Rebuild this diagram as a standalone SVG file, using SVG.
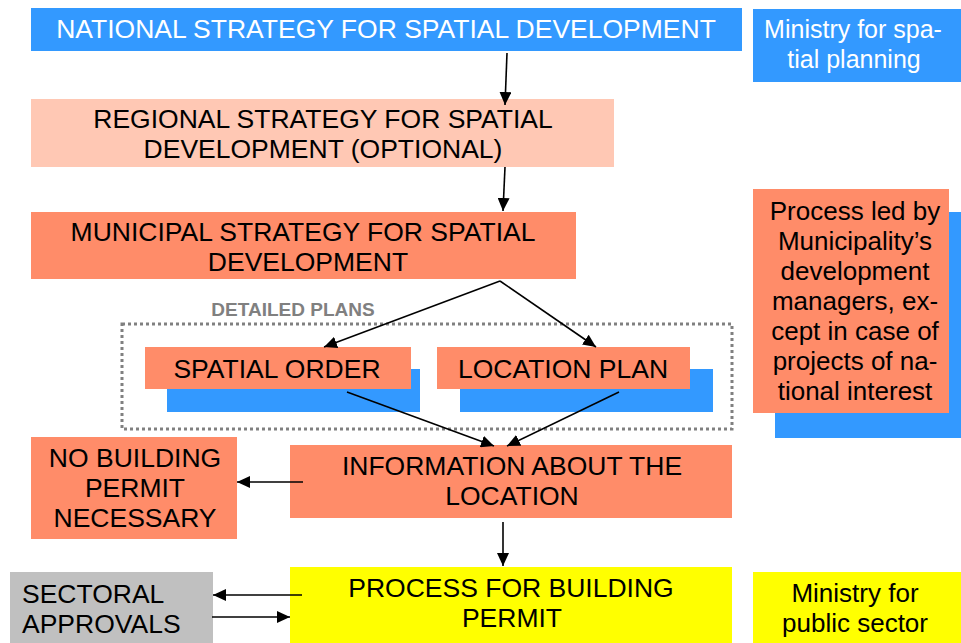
<svg xmlns="http://www.w3.org/2000/svg" width="961" height="643" viewBox="0 0 961 643">
<defs>
<style>
text{font-family:"Liberation Sans",Arial,sans-serif;font-size:26.5px;text-anchor:middle;fill:#000}
.lc{font-size:26px}
.w{fill:#fff}
.blue{fill:#3399ff}
.sal{fill:#ff8c69}
.pink{fill:#ffc8b4}
.yel{fill:#ffff00}
.gray{fill:#c0c0c0}
.con line{stroke:#000;stroke-width:1.6;fill:none;marker-end:url(#ah)}
</style>
<marker id="ah" markerUnits="userSpaceOnUse" markerWidth="14" markerHeight="12" refX="13" refY="6" orient="auto">
<path d="M0,0 L13,6 L0,12 Z" fill="#000"/>
</marker>
</defs>
<rect width="961" height="643" fill="#fff"/>

<g id="national">
<rect class="blue" x="31" y="8" width="711" height="43"/>
<text class="w" x="386" y="38">NATIONAL STRATEGY FOR SPATIAL DEVELOPMENT</text>
</g>
<g id="ministry-spatial">
<rect class="blue" x="753" y="9" width="208" height="73"/>
<text class="w lc" x="853" y="38" style="font-size:25px">Ministry for spa-</text>
<text class="w lc" x="854" y="68" style="font-size:25px">tial planning</text>
</g>
<g id="regional">
<rect class="pink" x="31" y="99" width="583" height="68"/>
<text x="323" y="128">REGIONAL STRATEGY FOR SPATIAL</text>
<text x="323" y="158">DEVELOPMENT (OPTIONAL)</text>
</g>
<g id="municipal">
<rect class="sal" x="31" y="212" width="545" height="67"/>
<text x="303" y="241">MUNICIPAL STRATEGY FOR SPATIAL</text>
<text x="308" y="271">DEVELOPMENT</text>
</g>
<g id="process-led">
<rect class="blue" x="775" y="212" width="186" height="226"/>
<rect class="sal" x="753" y="189" width="196" height="224"/>
<text class="lc" x="855" y="220">Process led by</text>
<text class="lc" x="855" y="250">Municipality’s</text>
<text class="lc" x="855" y="280">development</text>
<text class="lc" x="855" y="310">managers, ex-</text>
<text class="lc" x="855" y="340">cept in case of</text>
<text class="lc" x="855" y="370">projects of na-</text>
<text class="lc" x="855" y="400">tional interest</text>
</g>
<g id="detailed-plans">
<rect x="122" y="324" width="610" height="105" fill="none" stroke="#808080" stroke-width="3" stroke-dasharray="3,3"/>
<text x="293" y="316" style="font-size:19px;font-weight:bold;fill:#808080">DETAILED PLANS</text>
</g>
<g id="spatial-order">
<rect class="blue" x="167" y="369" width="253" height="43"/>
<rect class="sal" x="145" y="347" width="266" height="42"/>
<text x="277" y="378">SPATIAL ORDER</text>
</g>
<g id="location-plan">
<rect class="blue" x="460" y="369" width="253" height="43"/>
<rect class="sal" x="437" y="347" width="253" height="42"/>
<text x="563" y="378">LOCATION PLAN</text>
</g>
<g id="no-permit">
<rect class="sal" x="31" y="437" width="206" height="102"/>
<text x="135" y="467">NO BUILDING</text>
<text x="135" y="497">PERMIT</text>
<text x="135" y="527">NECESSARY</text>
</g>
<g id="information">
<rect class="sal" x="290" y="445" width="442" height="73"/>
<text x="512" y="475">INFORMATION ABOUT THE</text>
<text x="512" y="505">LOCATION</text>
</g>
<g id="sectoral">
<rect class="gray" x="10" y="572" width="203" height="71"/>
<text x="22" y="603" style="text-anchor:start">SECTORAL</text>
<text x="22" y="633" style="text-anchor:start">APPROVALS</text>
</g>
<g id="building-permit">
<rect class="yel" x="290" y="567" width="442" height="76"/>
<text x="511" y="597">PROCESS FOR BUILDING</text>
<text x="512" y="627">PERMIT</text>
</g>
<g id="ministry-public">
<rect class="yel" x="753" y="572" width="208" height="71"/>
<text class="lc" x="855" y="602">Ministry for</text>
<text class="lc" x="855" y="632">public sector</text>
</g>

<g id="connectors" class="con">
<line x1="507" y1="53" x2="505" y2="105"/>
<line x1="505" y1="167" x2="503" y2="211"/>
<line x1="500" y1="281" x2="324" y2="347"/>
<line x1="500" y1="281" x2="596" y2="347"/>
<line x1="347" y1="392" x2="494" y2="446"/>
<line x1="619" y1="392" x2="507" y2="446"/>
<line x1="303" y1="482" x2="237" y2="482"/>
<line x1="503" y1="522" x2="503" y2="566"/>
<line x1="302" y1="595" x2="213" y2="595"/>
<line x1="212" y1="617" x2="290" y2="617"/>
</g>
</svg>
